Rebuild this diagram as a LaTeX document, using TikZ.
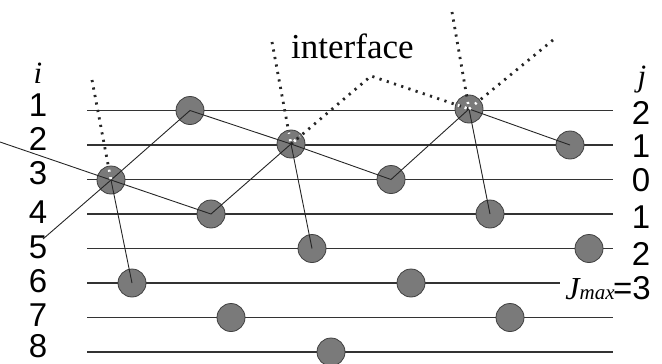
\documentclass[tikz,border=0pt]{standalone}
\usepackage{fontspec}
\setmainfont{Liberation Serif}
\newfontfamily\arial{Liberation Sans}
\begin{document}
\begin{tikzpicture}[x=1pt,y=-1pt,
  level/.style={draw=black!80, line width=1.5pt},
  ball/.style={circle, fill=black!52, draw=black!75, line width=0.8pt,
               minimum size=28pt, inner sep=0pt},
  link/.style={draw=black!85, line width=0.9pt},
  iface/.style={line width=2.8pt, dash pattern=on 2.2pt off 5.4pt, black!85},
  num/.style={font=\arial\fontsize{33}{33}\selectfont, inner sep=0pt},
  idx/.style={font=\itshape\fontsize{31}{31}\selectfont, inner sep=0pt},
]
\useasboundingbox (0,0) rectangle (662,364);

% horizontal levels
\foreach \n/\y/\xe in {1/110.5/613, 2/145/613, 3/179.5/613, 4/214/613,
                       5/248.5/613, 6/283/560, 7/317.5/613, 8/352/613} {
  \coordinate (w\n) at (87,\y);
  \coordinate (e\n) at (\xe,\y);
  \draw[level] (w\n) -- (e\n);
}

% particles
\node[ball] (c1a) at (190,110.5) {};
\node[ball] (i1)  at (469,109) {};
\node[ball] (i2)  at (291,144) {};
\node[ball] (c2b) at (570,145) {};
\node[ball] (i3)  at (111,180) {};
\node[ball] (c3b) at (391,179.5) {};
\node[ball] (c4a) at (211,214) {};
\node[ball] (c4b) at (490,214) {};
\node[ball] (c5a) at (312,248.5) {};
\node[ball] (c5b) at (589,248.5) {};
\node[ball] (c6a) at (132,283) {};
\node[ball] (c6b) at (411,283) {};
\node[ball] (c7a) at (231,317.5) {};
\node[ball] (c7b) at (510,317.5) {};
\node[ball] (c8a) at (331,352) {};

% bonds
\coordinate (s1) at (0,142);
\coordinate (s2) at (43,239);
\draw[link] (s1) -- (i3.center) -- (c4a.center) -- (i2.center) -- (c3b.center)
            -- (i1.center) -- (c2b.center);
\draw[link] (s2) -- (i3.center) -- (c1a.center) -- (i2.center);
\draw[link] (i3.center) -- (c6a.center);
\draw[link] (i2.center) -- (c5a.center);
\draw[link] (i1.center) -- (c4b.center);

% interface traces
\coordinate (t3) at (92,80);
\coordinate (t2) at (272,42);
\coordinate (k2) at (371,76);
\coordinate (t1) at (452,12);
\coordinate (u1) at (553,40);
\draw[iface] (t3) -- (i3.center);
\draw[iface] (t2) -- (i2.center);
\draw[iface] (i2.center) -- (k2) -- (i1.center);
\draw[iface] (t1) -- (i1.center);
\draw[iface] (u1) -- (i1.center);
\begin{scope}
  \clip (i3.center) circle (12pt);
  \draw[iface, white] (t3) -- (i3.center);
\end{scope}
\begin{scope}
  \clip (i2.center) circle (12pt);
  \draw[iface, white] (t2) -- (i2.center);
  \draw[iface, white] (k2) -- (i2.center);
\end{scope}
\begin{scope}
  \clip (i1.center) circle (12pt);
  \draw[iface, white] (t1) -- (i1.center);
  \draw[iface, white] (u1) -- (i1.center);
  \draw[iface, white] (k2) -- (i1.center);
\end{scope}

\node[anchor=base west, inner sep=0pt, font=\fontsize{35}{35}\selectfont]
  (lab) at (291,58) {interface};

% left indices
\node[idx] (li) at (38,73) {i};
\node[num] (l1) at (38,105) {1};
\node[num] (l2) at (38,139) {2};
\node[num] (l3) at (38,173) {3};
\node[num] (l4) at (38,212) {4};
\node[num] (l5) at (38,247) {5};
\node[num] (l6) at (38,281) {6};
\node[num] (l7) at (38,315) {7};
\node[num] (l8) at (38,346) {8};

% right indices
\node[idx] (rj) at (642,80) {j};
\node[num] (r1) at (641,113) {2};
\node[num] (r2) at (641,146) {1};
\node[num] (r3) at (641,180) {0};
\node[num] (r4) at (641,217) {1};
\node[num] (r5) at (641,254) {2};
\node[anchor=base east, inner sep=0pt] (r6) at (651,299)
  {{\itshape\fontsize{32}{32}\selectfont J}{\itshape\fontsize{21}{21}\selectfont max}\kern-1.5pt{\arial\fontsize{33}{33}\selectfont =3}};
\end{tikzpicture}
\end{document}
